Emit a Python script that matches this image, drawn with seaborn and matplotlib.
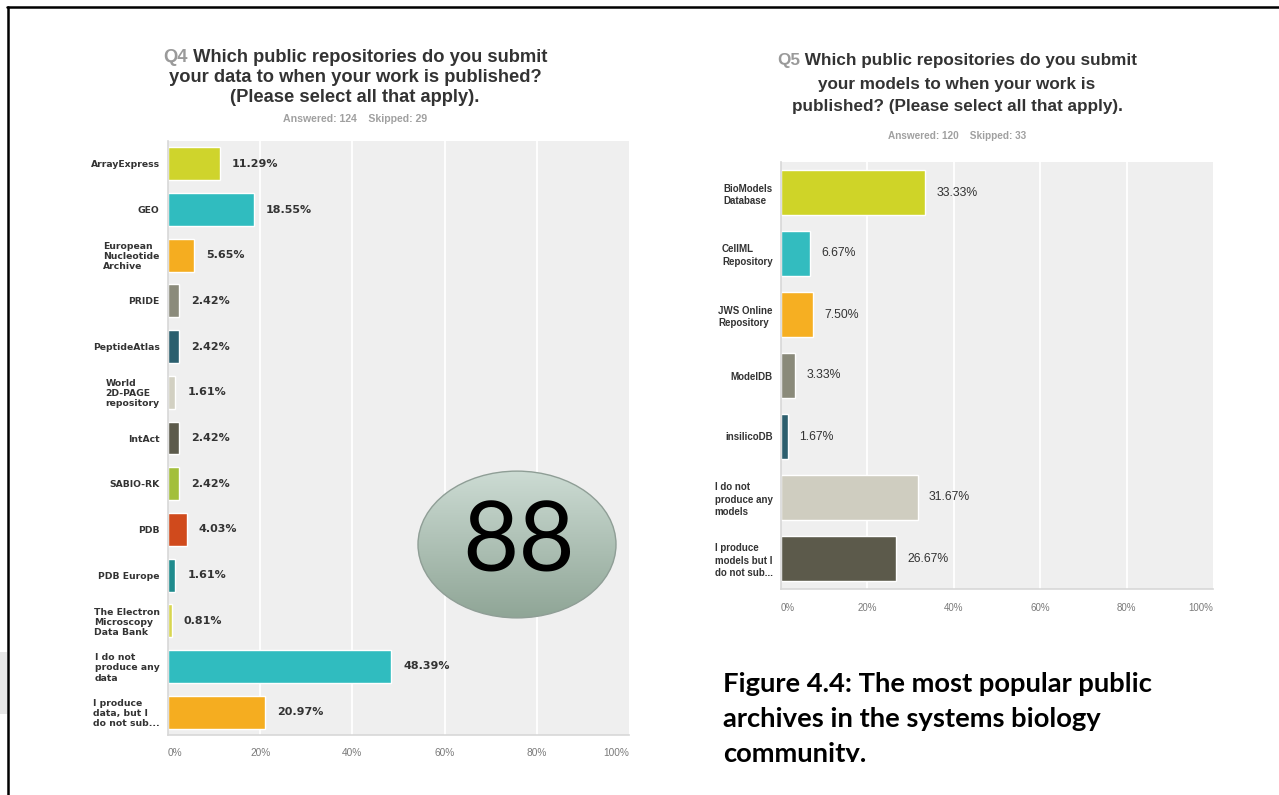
import matplotlib
matplotlib.use("Agg")
import matplotlib.pyplot as plt
import seaborn as sns
import numpy as np
import pandas as pd
from matplotlib.patches import Ellipse, Rectangle
from matplotlib.lines import Line2D

# ---------------- data ----------------
q4_categories = ["ArrayExpress", "GEO", "European\nNucleotide\nArchive", "PRIDE",
                 "PeptideAtlas", "World\n2D-PAGE\nrepository", "IntAct", "SABIO-RK",
                 "PDB", "PDB Europe", "The Electron\nMicroscopy\nData Bank",
                 "I do not\nproduce any\ndata", "I produce\ndata, but I\ndo not sub..."]
q4_values = [11.29, 18.55, 5.65, 2.42, 2.42, 1.61, 2.42, 2.42, 4.03, 1.61, 0.81, 48.39, 20.97]
q4_colors = ["#cfd42c", "#30bcbf", "#f5ad20", "#8b8b7b", "#2b5f6e", "#d2d0c2", "#5c5a4b",
             "#a3bf3b", "#d04a1c", "#1f8b8d", "#d8d650", "#30bcbf", "#f5ad20"]

q5_categories = ["BioModels\nDatabase", "CellML\nRepository", "JWS Online\nRepository",
                 "ModelDB", "insilicoDB", "I do not\nproduce any\nmodels",
                 "I produce\nmodels but I\ndo not sub..."]
q5_values = [33.33, 6.67, 7.50, 3.33, 1.67, 31.67, 26.67]
q5_colors = ["#cfd428", "#33bcbf", "#f6af22", "#8a8a7a", "#2d5f6e", "#cfcdc0", "#5c5a4b"]

tick_values = [0, 20, 40, 60, 80, 100]
tick_labels = ["0%", "20%", "40%", "60%", "80%", "100%"]

q4_title_tag = "Q4"
q4_title = [" Which public repositories do you submit",
            "your data to when your work is published?",
            "(Please select all that apply)."]
q4_stats = "Answered: 124    Skipped: 29"
q5_title_tag = "Q5"
q5_title = [" Which public repositories do you submit",
            "your models to when your work is",
            "published? (Please select all that apply)."]
q5_stats = "Answered: 120    Skipped: 33"
badge_text = "88"
caption = ["Figure 4.4: The most popular public",
           "archives in the systems biology",
           "community."]

# ---------------- figure ----------------
sns.set_theme(style="white")
W, H = 1279, 795
fig = plt.figure(figsize=(W / 100, H / 100), dpi=100)
fig.patch.set_facecolor("white")


def fx(px):
    return px / W


def fy(py):
    return 1 - py / H


def make_panel(rect, cats, vals, cols, bar_w, label_font, label_size, label_ls,
               val_font, val_size, val_weight, tick_size, tick_pad):
    ax = fig.add_axes(rect)
    df = pd.DataFrame({"cat": cats, "val": vals})
    sns.barplot(data=df, x="val", y="cat", hue="cat", palette=dict(zip(cats, cols)),
                legend=False, orient="h", width=bar_w, ax=ax, saturation=1)
    ax.set_facecolor("#efefef")
    ax.set_xlim(0, 100)
    ax.set_ylim(len(cats) - 0.5, -0.5)
    ax.set_xticks(tick_values)
    ax.set_xticklabels(tick_labels)
    for lab, ha in zip(ax.get_xticklabels(), ["left", "center", "center", "center", "center", "right"]):
        lab.set_ha(ha)
        lab.set_fontsize(tick_size)
        lab.set_color("#7a7a7a")
        lab.set_family("Liberation Sans")
    ax.tick_params(axis="x", length=0, pad=tick_pad)
    ax.tick_params(axis="y", length=0, pad=6)
    for lab in ax.get_yticklabels():
        lab.set_family(label_font)
        lab.set_fontsize(label_size)
        lab.set_fontweight("bold")
        lab.set_color("#333333")
        lab.set_multialignment("left")
        lab.set_linespacing(label_ls)
    for x in tick_values[1:-1]:
        ax.axvline(x, color="white", lw=1.3, zorder=0.5)
    ax.set_axisbelow(True)
    ax.set_xlabel("")
    ax.set_ylabel("")
    for s in ["top", "right"]:
        ax.spines[s].set_visible(False)
    for s in ["left", "bottom"]:
        ax.spines[s].set_color("#d8d8d8")
        ax.spines[s].set_linewidth(1.2)
    for i, v in enumerate(vals):
        ax.text(v + 2.6, i, f"{v:.2f}%", va="center", ha="left", family=val_font,
                fontsize=val_size, fontweight=val_weight, color="#333333")
    return ax


ax1 = make_panel([fx(168), fy(735), fx(629) - fx(168), fy(141) - fy(735)],
                 q4_categories, q4_values, q4_colors, 0.72,
                 "DejaVu Sans", 6.7, 1.15, "DejaVu Sans", 8, "bold", 7.3, 9)
ax2 = make_panel([fx(781), fy(589), fx(1213) - fx(781), fy(162) - fy(589)],
                 q5_categories, q5_values, q5_colors, 0.75,
                 "Liberation Sans", 7, 1.3, "Liberation Sans", 8.8, "normal", 7.0, 10)


# ---------------- titles ----------------
def title(x_tag, y_first, cx, lines, tag, size, stats, stats_size, y_stats, spacing):
    t = fig.text(fx(x_tag), fy(y_first), tag, fontsize=size, fontweight="bold",
                 color="#9a9a9a", family="Liberation Sans", va="center", ha="left")
    plt.annotate(lines[0], xy=(1, 0.5), xycoords=t, va="center", ha="left",
                 fontsize=size, fontweight="bold", color="#333333", family="Liberation Sans",
                 annotation_clip=False)
    for k, ln in enumerate(lines[1:], start=1):
        fig.text(fx(cx), fy(y_first + k * spacing), ln, fontsize=size, fontweight="bold",
                 color="#333333", family="Liberation Sans", va="center", ha="center")
    fig.text(fx(cx), fy(y_stats), stats, fontsize=stats_size, fontweight="bold",
             color="#a0a0a0", family="Liberation Sans", va="center", ha="center")


title(163, 57, 355, q4_title, q4_title_tag, 13.2, q4_stats, 7.6, 119, 20)
title(777, 61, 957, q5_title, q5_title_tag, 12.3, q5_stats, 7.2, 136, 23)

# ---------------- badge ellipse ----------------
bax = fig.add_axes([fx(417), fy(619), fx(617) - fx(417), fy(470) - fy(619)])
bax.set_xlim(0, 1)
bax.set_ylim(0, 1)
bax.axis("off")
grad = np.linspace(0, 1, 256).reshape(-1, 1)
cmap = matplotlib.colors.LinearSegmentedColormap.from_list("g", ["#8fa596", "#cddcd4"])
im = bax.imshow(grad, extent=[0, 1, 0, 1], origin="lower", cmap=cmap, aspect="auto")
ell = Ellipse((0.5, 0.5), 0.99, 0.985, transform=bax.transAxes, facecolor="none",
              edgecolor="#8f9e96", lw=1.0)
bax.add_patch(ell)
im.set_clip_path(ell)
bax.text(0.51, 0.5, badge_text, ha="center", va="center", fontsize=70,
         family="Lato", color="black")

# ---------------- caption ----------------
cax = fig.add_axes([fx(715), fy(762), fx(1270) - fx(715), fy(665) - fy(762)])
cax.axis("off")
cax.set_xlim(0, 1)
cax.set_ylim(0, 1)
for k, ln in enumerate(caption):
    ypix = 684 + 35 * k
    cax.text((723 - 715) / (1270 - 715), (762 - ypix) / (762 - 665), ln,
             transform=cax.transAxes, ha="left", va="center", fontsize=19.7,
             fontweight="bold", family="Lato", color="black", clip_on=True)

# ---------------- frame lines ----------------
fig.add_artist(Line2D([fx(7), 1], [fy(7), fy(7)], color="black", lw=1.8))
fig.add_artist(Line2D([fx(7.5), fx(7.5)], [fy(7), 0], color="black", lw=1.8))
fig.add_artist(Rectangle((0, fy(714)), fx(6.5), fy(652) - fy(714), color="#e6e6e6", lw=0))

fig.savefig("out.png", dpi=100, facecolor="white")
